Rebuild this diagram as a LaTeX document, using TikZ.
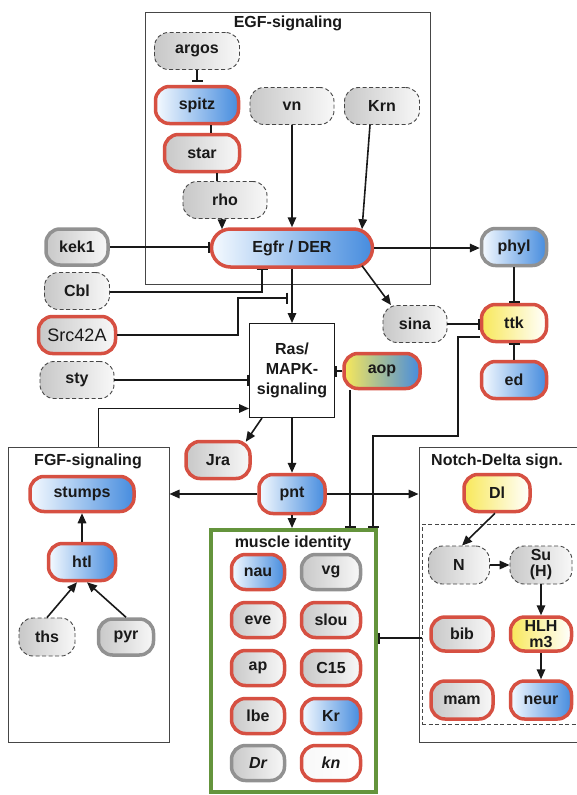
\documentclass[tikz,border=0pt]{standalone}
\usepackage{fontspec}
\setmainfont{Liberation Sans}
\usetikzlibrary{arrows.meta}
\definecolor{myred}{RGB}{214,80,66}
\definecolor{mygrayb}{RGB}{145,145,145}
\definecolor{dashc}{RGB}{70,70,70}
\definecolor{myblue}{RGB}{70,140,222}
\definecolor{bluel}{RGB}{245,250,255}
\definecolor{myyellow}{RGB}{248,232,90}
\definecolor{gleft}{RGB}{200,200,200}
\definecolor{gright}{RGB}{248,248,248}
\definecolor{mygreen}{RGB}{100,148,60}
\definecolor{linec}{RGB}{25,25,25}
\definecolor{boxc}{RGB}{70,70,70}
\newcommand\mynf{\bfseries\fontsize{16}{17}\selectfont}
\newcommand\mytf{\bfseries\fontsize{16}{18}\selectfont}
\begin{document}
\begin{tikzpicture}[x=1pt,y=-1pt,
  nbase/.style={rounded corners=14pt, inner sep=1pt, font=\mynf, align=center, text=linec},
  redb/.style={nbase, draw=myred, line width=3.5pt},
  grayb/.style={nbase, draw=mygrayb, line width=3.5pt},
  dashb/.style={nbase, draw=dashc, line width=0.9pt, dash pattern=on 4pt off 2.5pt, left color=gleft, right color=gright},
  fblue/.style={left color=bluel, right color=myblue},
  fgray/.style={left color=gleft, right color=gright},
  fyel/.style={left color=myyellow, right color=white},
  fyb/.style={left color=myyellow, right color=myblue},
  sz/.style 2 args={minimum width=#1pt, minimum height=#2pt},
  grp/.style={draw=boxc, line width=1pt, inner sep=0pt},
  ttl/.style={font=\mytf, text=linec, inner sep=0pt},
  arr/.style={draw=linec, line width=1.6pt, -{Triangle[length=10pt,width=8.5pt]}},
  inh/.style={draw=linec, line width=1.6pt, -{Bar[width=11pt,line width=1.7pt]}},
  pln/.style={draw=linec, line width=1.6pt},
]
\useasboundingbox (0,0) rectangle (577,795);
\fill[white] (0,0) rectangle (577,795);

% group boxes
\node[grp, sz={285}{272}] (EGF) at (287.5,148) {};
\node[ttl] (EGFt) at (288,23) {EGF-signaling};
\node[grp, sz={161}{295}] (FGF) at (88.5,594.5) {};
\node[ttl] (FGFt) at (88,461) {FGF-signaling};
\node[grp, sz={181}{295}] (Notch) at (509.5,594.5) {};
\node[ttl] (Notcht) at (497,461) {Notch-Delta sign.};
\node[draw=boxc, line width=0.9pt, dash pattern=on 4pt off 2.5pt, inner sep=0pt, sz={178}{200}] (inner) at (511,624) {};
\node[draw=mygreen, line width=4pt, inner sep=0pt, sz={165}{262}] (Muscle) at (293.5,661) {};
\node[ttl] (Musclet) at (293,543) {muscle identity};

% EGF nodes
\node[dashb, sz={85}{37}] (argos) at (197,51) {argos};
\node[redb, fblue, sz={83}{37}] (spitz) at (197,105) {spitz};
\node[dashb, sz={84}{37}] (vn) at (292,106) {vn};
\node[dashb, sz={75}{37}] (Krn) at (382,106) {Krn};
\node[redb, fgray, sz={75}{37}] (star) at (202,153) {star};
\node[dashb, sz={84}{37}] (rho) at (225,200) {rho};
\node[redb, fblue, rounded corners=19pt, sz={161}{38}] (Egfr) at (292,248) {Egfr / DER};

% left regulators
\node[grayb, fgray, sz={62}{36}] (kek1) at (77,247) {kek1};
\node[dashb, sz={65}{37}] (Cbl) at (77,291) {Cbl};
\node[redb, fgray, sz={77}{37}, font=\fontsize{18}{19}\selectfont] (Src) at (77,335) {Src42A};
\node[dashb, sz={74}{37}] (sty) at (77,380) {sty};

% Ras
\node[grp, draw=linec, sz={85}{94}, align=center, font=\bfseries\fontsize{16}{20}\selectfont, text=linec] (Ras) at (292,370.5) {Ras/\\MAPK-\\signaling};

% right side
\node[grayb, fblue, sz={65}{37}] (phyl) at (514,247) {phyl};
\node[dashb, sz={64}{37}] (sina) at (415,324) {sina};
\node[redb, fyel, sz={65}{37}] (ttk) at (514,323) {ttk};
\node[redb, fblue, sz={65}{37}] (ed) at (514,380) {ed};
\node[redb, fyb, sz={76}{35}] (aop) at (382,371) {aop};

\node[redb, fgray, sz={64}{37}] (Jra) at (218,460) {Jra};
\node[redb, fblue, sz={66}{39}] (pnt) at (292,494) {pnt};

% FGF nodes
\node[redb, fblue, sz={104}{35}] (stumps) at (82,494) {stumps};
\node[redb, fblue, sz={67}{37}] (htl) at (82,562) {htl};
\node[dashb, sz={56}{38}] (ths) at (47,637) {ths};
\node[grayb, fgray, sz={55}{36}] (pyr) at (126,637) {pyr};

% muscle identity nodes
\node[redb, fblue, sz={53}{35}] (nau) at (258,572) {nau};
\node[grayb, fgray, sz={59}{35}] (vg) at (331,572) {vg};
\node[redb, fgray, sz={53}{35}] (eve) at (258,620) {eve};
\node[redb, fgray, sz={59}{35}] (slou) at (331,620) {slou};
\node[redb, fgray, sz={53}{35}] (ap) at (258,668) {ap};
\node[redb, fgray, sz={59}{35}] (C15) at (331,668) {C15};
\node[redb, fgray, sz={53}{35}] (lbe) at (258,716) {lbe};
\node[redb, fblue, sz={59}{35}] (Kr) at (331,716) {Kr};
\node[grayb, fgray, sz={53}{35}, font=\mynf\itshape] (Dr) at (258,763) {Dr};
\node[redb, left color=gright, right color=white, sz={59}{35}, font=\mynf\itshape] (kn) at (331,763) {kn};

% Notch nodes
\node[redb, fyel, sz={66}{37}] (Dl) at (497,493) {Dl};
\node[dashb, sz={61}{38}] (N) at (459,565) {N};
\node[dashb, sz={62}{38}] (SuH) at (541,565) {Su\\[-1pt](H)};
\node[redb, fgray, sz={62}{34}] (bib) at (462,634) {bib};
\node[redb, fyel, sz={61}{34}] (HLH) at (541,634) {HLH\\[-1pt]m3};
\node[redb, fgray, sz={62}{38}] (mam) at (462,700) {mam};
\node[redb, fblue, sz={61}{38}] (neur) at (541,700) {neur};

% ---- connectors ----
\draw[inh, shorten >=3pt] (argos.south) -- (spitz.north);
\draw[pln] ([xshift=14pt]spitz.south) -- ([xshift=9pt]star.north);
\draw[pln] ([xshift=15pt]star.south) -- ([xshift=-8pt]rho.north);
\draw[arr] ([xshift=-3pt]rho.south) -- ([xshift=-70pt,yshift=-2pt]Egfr.north);
\draw[arr] (vn.south) -- (Egfr.north);
\draw[arr] ([xshift=-12pt]Krn.south) -- ([xshift=70pt,yshift=-2pt]Egfr.north);

\draw[inh] (kek1.east) -- (kek1.east -| Egfr.west);
\draw[inh] ([yshift=-1pt]Cbl.east) -| ([xshift=-30pt]Egfr.south);
\coordinate (srcT) at (288,298);
\draw[inh] (Src.east) -| ([xshift=-50pt]srcT) -- (srcT);
\draw[inh] (sty.east) -- (sty.east -| Ras.west);
\draw[arr] ([xshift=10pt]FGF.north) |- ([yshift=-38pt]Ras.west);
\draw[arr] (Egfr.south) -- (Ras.north);

\draw[arr] (Egfr.east) -- (Egfr.east -| phyl.west);
\draw[arr] ([xshift=70pt,yshift=3pt]Egfr.south) -- ([xshift=-24pt]sina.north);
\draw[inh] (phyl.south) -- (ttk.north);
\draw[inh] (sina.east) -- (sina.east -| ttk.west);
\draw[inh] (ed.north) -- (ttk.south);
\draw[inh] (aop.west) -- (aop.west -| Ras.east);

\draw[arr] ([xshift=-30pt]Ras.south) -- ([xshift=-6pt,yshift=-2pt]Jra.north east);
\draw[arr] (Ras.south) -- (pnt.north);
\draw[arr] (pnt.west) -- (pnt.west -| FGF.east);
\draw[arr] (pnt.east) -- (pnt.east -| Notch.west);
\draw[arr] (pnt.south) -- (pnt.south |- Muscle.north);

\draw[inh] ([xshift=-32pt]aop.south) -- ([xshift=56.5pt]Muscle.north);
\coordinate (ttkC) at (458,436);
\draw[inh] ([yshift=-14pt]ttk.west) -| (ttkC) -| ([xshift=79.5pt]Muscle.north);

\draw[inh] ([yshift=-14pt]inner.west) -- ([yshift=-14pt]inner.west -| Muscle.east);

% FGF internal
\draw[arr] (htl.north) -- (stumps.south);
\draw[arr] (ths.north) -- ([xshift=-5pt]htl.south);
\draw[arr] (pyr.north) -- ([xshift=5pt]htl.south);

% Notch internal
\draw[arr] ([xshift=-2pt]Dl.south) -- ([xshift=3pt]N.north);
\draw[arr] (N.east) -- (SuH.west);
\draw[arr] (SuH.south) -- (HLH.north);
\draw[arr] (HLH.south) -- (neur.north);
\end{tikzpicture}
\end{document}
